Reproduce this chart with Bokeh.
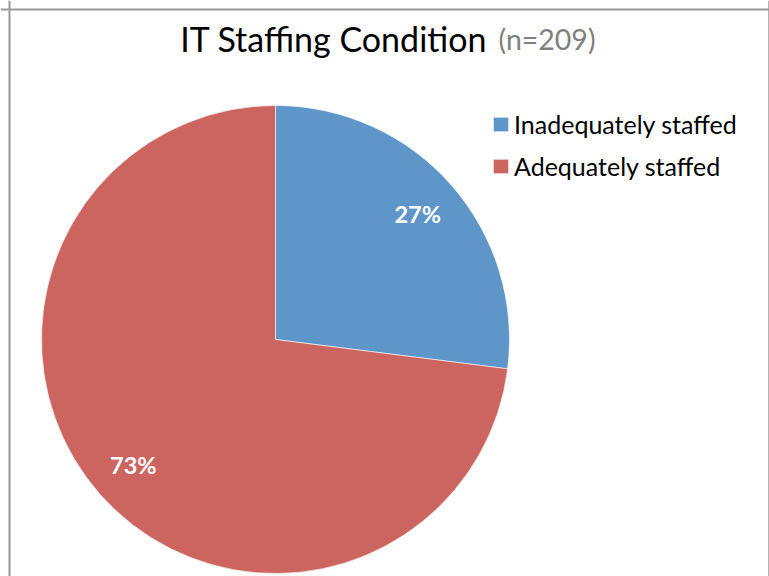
import math
from bokeh.plotting import figure
from bokeh.models import ColumnDataSource, Range1d, Span, Legend, LegendItem
from bokeh.core.properties import value
from bokeh.embed import file_html
from bokeh.resources import INLINE

# ---- data ----
categories = ["Inadequately staffed", "Adequately staffed"]
shares = [27, 73]
title_main = "IT Staffing Condition"
title_n = "(n=209)"

colors = ["#5F96CA", "#CC655F"]
FONT = "Lato"

# pixel-like coordinate system: x = screen x, y = 576 - screen y
W, H = 769, 576
p = figure(width=W, height=H, output_backend="svg", toolbar_location=None,
           x_range=Range1d(0, W), y_range=Range1d(0, H),
           min_border=0, match_aspect=False)
p.xaxis.visible = False
p.yaxis.visible = False
p.grid.visible = False
p.outline_line_color = None
p.background_fill_color = "white"
p.border_fill_color = "white"

cx, cy, R = 275, 576 - 339, 234

total = float(sum(shares))
starts, ends, lx, ly, labels = [], [], [], [], []
a = math.pi / 2
for s in shares:
    sweep = s / total * 2 * math.pi
    starts.append(a)
    ends.append(a - sweep)
    mid = a - sweep / 2
    lx.append(cx + 0.81 * R * math.cos(mid))
    ly.append(cy + 0.81 * R * math.sin(mid))
    labels.append(f"{round(s / total * 100)}%")
    a -= sweep

src = ColumnDataSource(dict(cat=categories, start=starts, end=ends, color=colors,
                            lx=lx, ly=ly, lab=labels))
wr = p.wedge(x=cx, y=cy, radius=R, start_angle="start", end_angle="end",
             direction="clock", fill_color="color", line_color="white",
             line_alpha=0.6, line_width=1, source=src)

p.text(x="lx", y="ly", text="lab", source=src, text_color="white",
       text_font=value(FONT), text_font_style="bold", text_font_size="23.5px",
       text_align="center", text_baseline="middle")

# title
p.text(x=[487], y=[576 - 38], text=[title_main], text_align="right",
       text_baseline="alphabetic", text_font=value(FONT), text_font_size="34px",
       text_color="#000000")
p.text(x=[498], y=[576 - 38], text=[title_n], text_align="left",
       text_baseline="alphabetic", text_font=value(FONT), text_font_size="28.5px",
       text_color="#808080")

legend = Legend(items=[LegendItem(label=c, renderers=[wr], index=i)
                       for i, c in enumerate(categories)],
                location=(491, 576 - 119 - 62), orientation="vertical",
                padding=0, margin=0, spacing=12, border_line_color=None,
                background_fill_alpha=0, glyph_width=19, glyph_height=18,
                label_height=25, label_standoff=4,
                label_text_font=FONT, label_text_font_size="25px",
                label_text_color="#000000")
p.add_layout(legend, "center")

# chart border (left, top, right)
for loc, dim, w in [(9, "height", 2), (576 - 9, "width", 2), (768.5, "height", 1.5)]:
    p.add_layout(Span(location=loc, dimension=dim, line_color="#999999", line_width=w))

open("out.html", "w").write(file_html(p, INLINE))
